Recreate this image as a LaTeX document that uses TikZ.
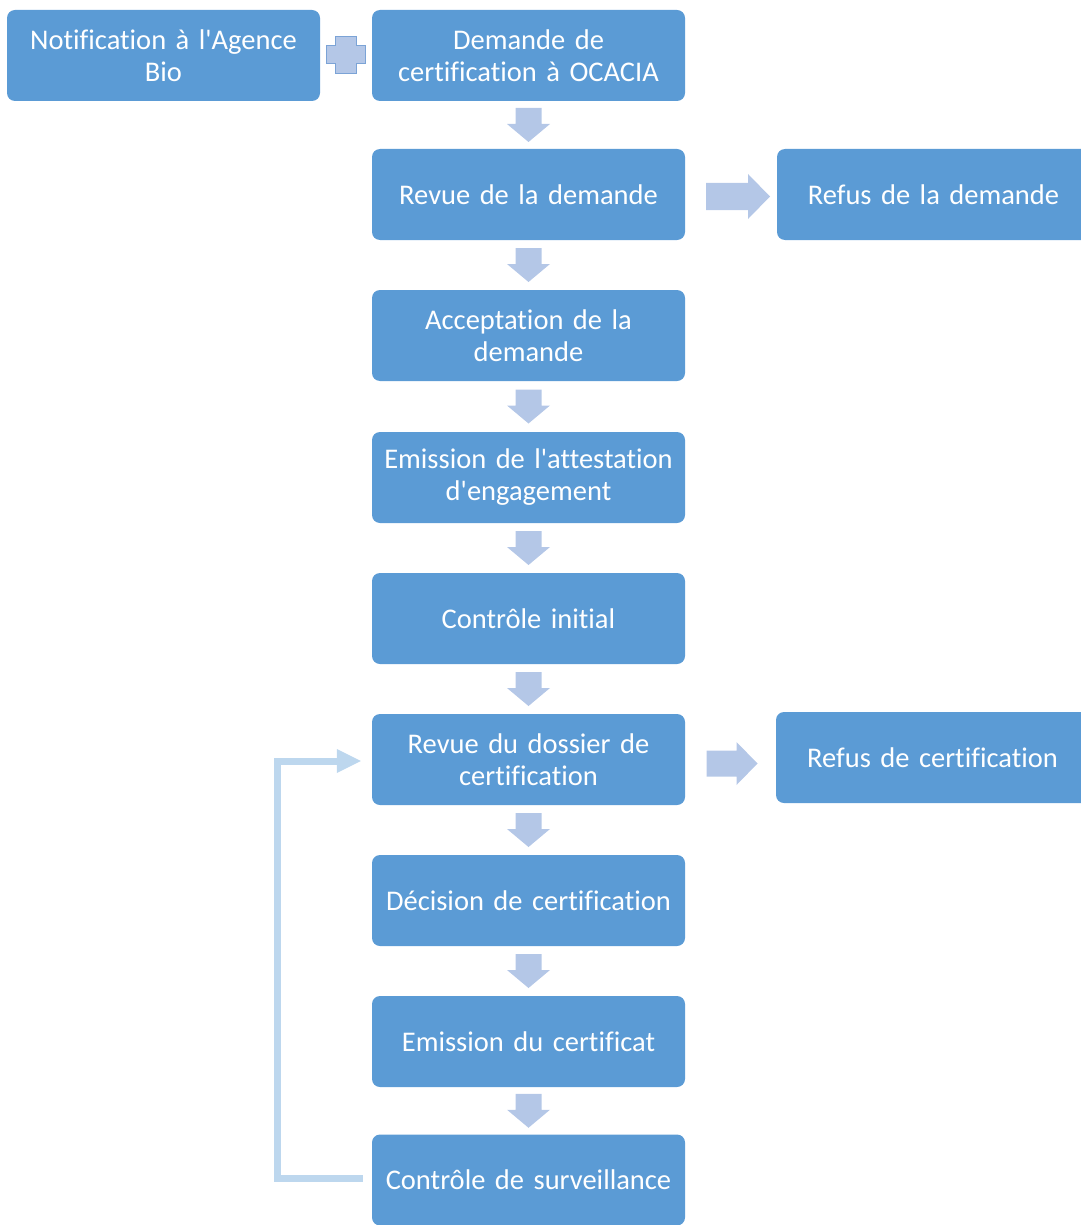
\documentclass[tikz,border=0pt]{standalone}
\usepackage{fontspec}
\setmainfont{Carlito}[Ligatures={NoCommon}]
\usetikzlibrary{calc}
\definecolor{boxblue}{HTML}{5B9BD5}
\definecolor{arrowblue}{HTML}{B4C7E7}
\definecolor{loopblue}{HTML}{BDD7EE}
\definecolor{plusedge}{HTML}{7BA3D6}
\tikzset{
  stepbox/.style={rectangle, rounded corners=8pt, fill=boxblue, text=white,
    minimum width=313pt, minimum height=91pt, text width=309pt, align=center,
    inner sep=0pt, font=\fontsize{28.5}{32}\selectfont},
  blockarrow/.style={fill=arrowblue, draw=none},
  looparrow/.style={draw=loopblue, line width=7pt},
}
\newcommand{\apos}{\textquotesingle}
\begin{document}
\begin{tikzpicture}[x=1pt,y=-1pt]
\useasboundingbox (0,0) rectangle (1080,1225);
% nodes
\node[stepbox] (notif) at (163.5,55.5) {Notification à l\apos Agence\\Bio};
\node[stepbox] (dem) at (528.5,55.5) {Demande de\\certification à OCACIA};
\node[stepbox] (rev) at (528.5,194.5) {Revue de la demande};
\node[stepbox] (refd) at (933.5,194.5) {Refus de la demande};
\node[stepbox] (acc) at (528.5,335.5) {Acceptation de la\\demande};
\node[stepbox] (att) at (528.5,477.5) {Emission de l\apos attestation\\d\apos engagement};
\node[stepbox] (ci) at (528.5,618.5) {Contrôle initial};
\node[stepbox] (dos) at (528.5,759.5) {Revue du dossier de\\certification};
\node[stepbox] (refc) at (932.5,757.5) {Refus de certification};
\node[stepbox] (dec) at (528.5,900.5) {Décision de certification};
\node[stepbox] (cert) at (528.5,1041.5) {Emission du certificat};
\node[stepbox] (surv) at (528.5,1180) {Contrôle de surveillance};
% plus sign
\coordinate (pl) at ($(notif.east)!0.5!(dem.west)$);
\path[fill=arrowblue, draw=plusedge, line width=0.8pt, shift={(pl)}]
  (-10.5,-19) -- (10.5,-19) -- (10.5,-10) -- (19.5,-10) -- (19.5,8) -- (10.5,8)
  -- (10.5,18) -- (-10.5,18) -- (-10.5,8) -- (-19.5,8) -- (-19.5,-10) -- (-10.5,-10) -- cycle;
% down arrows
\foreach \a/\b in {dem/rev, rev/acc, acc/att, att/ci, ci/dos, dos/dec, dec/cert, cert/surv}{
  \coordinate (m) at ($(\a.south)!0.5!(\b.north)$);
  \path[blockarrow, shift={(m)}]
    (-13,-17) -- (13,-17) -- (13,-1) -- (21.5,-1) -- (0,17) -- (-21.5,-1) -- (-13,-1) -- cycle;
}
% right arrows
\coordinate (r1) at ($(rev.east)!0.5!(refd.west)$);
\path[blockarrow, shift={(r1)}]
  (-25,-11.5) -- (17,-11.5) -- (17,-20.5) -- (39,2) -- (17,24.5) -- (17,15.5) -- (-25,15.5) -- cycle;
\coordinate (r2) at ($(dos.east)!0.5!(refc.west)$);
\path[blockarrow, shift={(r2)}]
  (-24,-8) -- (6,-8) -- (6,-16.5) -- (27,5) -- (6,26.5) -- (6,18) -- (-24,18) -- cycle;
% feedback loop
\coordinate (lp1) at ($(surv.west)+(-9,-2)$);
\coordinate (lp2) at (277,761);
\coordinate (lptip) at ($(dos.west)+(-11,1.5)$);
\draw[looparrow] (lp1) -- (lp1 -| lp2) -- (lp2) -- ($(lptip)+(-22,0)$);
\path[fill=loopblue] ($(lptip)+(-24,-12)$) -- (lptip) -- ($(lptip)+(-24,12)$) -- cycle;
\end{tikzpicture}
\end{document}
